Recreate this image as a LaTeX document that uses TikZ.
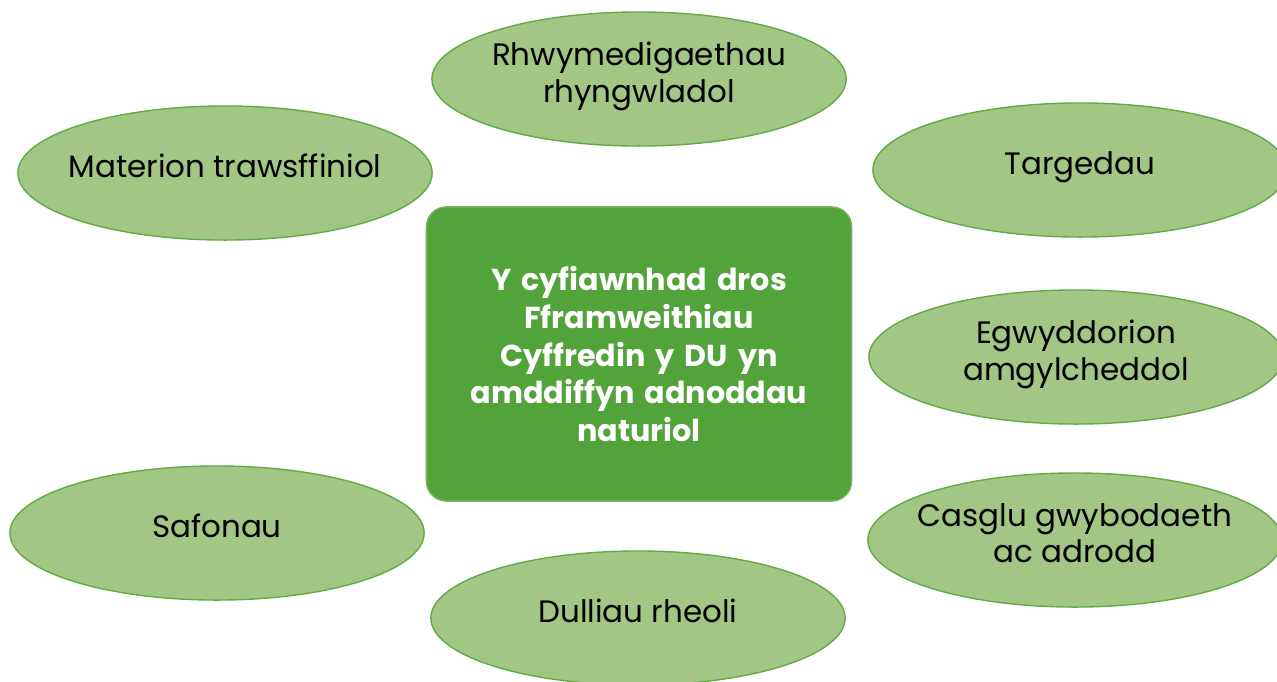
\documentclass[tikz,border=0pt]{standalone}
\usepackage{xcolor}
\usepackage{tikz}
\usepackage{fontspec}
\setmainfont{Poppins}
\usetikzlibrary{shapes, positioning}
\definecolor{leafgreen}{HTML}{A2C785}
\definecolor{leafedge}{HTML}{62AA46}
\definecolor{coregreen}{HTML}{52A33A}
\begin{document}
\begin{tikzpicture}[x=0.01cm,y=-0.01cm]
        \useasboundingbox (0,0) rectangle (1277,681);
        \node[fill=coregreen,draw=coregreen!80!white,rounded corners=0.2cm,minimum width=4.25cm,minimum height=2.94cm,
              text=white,font=\fontsize{8.6}{10.8}\selectfont\bfseries,align=center,text width=4cm] (core) at (639,354)
              {Y cyfiawnhad dros\\Fframweithiau\\Cyffredin y DU yn\\amddiffyn adnoddau\\naturiol};
        \begin{scope}[every node/.style={ellipse,draw=leafedge,fill=leafgreen,thin,minimum width=4.14cm,minimum height=1.34cm,
              inner xsep=-0.3cm,inner ysep=-0.1cm,text depth=0.14cm,align=center,font=\fontsize{8.8}{10.5}\selectfont}]
          \node (rhwym) at (639,79) {Rhwymedigaethau\\rhyngwladol};
          \node (mater) at (225,173) {Materion trawsffiniol};
          \node (targ) at (1080,170) {Targedau};
          \node (egwyd) at (1076,357) {Egwyddorion\\amgylcheddol};
          \node (casgl) at (1075,540) {Casglu gwybodaeth\\ac adrodd};
          \node (safon) at (217,533) {Safonau};
          \node (dull) at (638,618) {Dulliau rheoli};
        \end{scope}
      \end{tikzpicture}
\end{document}
